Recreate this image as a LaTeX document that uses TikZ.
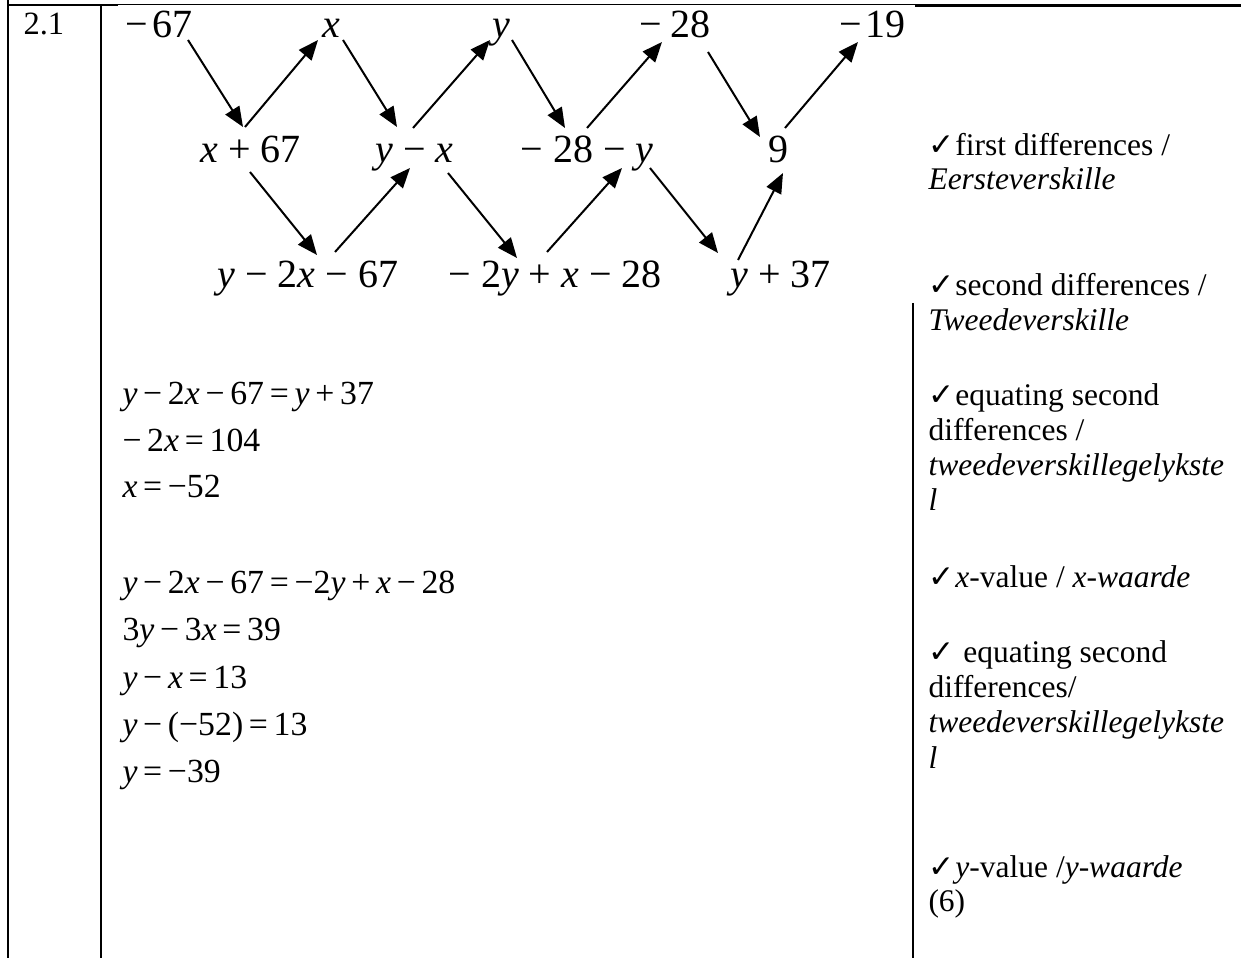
\documentclass[tikz,border=0pt]{standalone}
\usepackage{fontspec}
\setmainfont{Liberation Serif}
\newfontfamily\chkfont{DejaVu Sans}
\usetikzlibrary{arrows.meta}
\newcommand{\iv}[1]{\textit{#1}}
\newcommand{\dop}[1]{\hspace{0.25em}#1\hspace{0.25em}}
\newcommand{\eop}[1]{\hspace{0.17em}#1\hspace{0.17em}}
\newcommand{\chk}{{\chkfont\fontsize{12.5}{12}\selectfont ✓}\hspace{0.3pt}}
\tikzset{
  dg/.style={inner sep=0pt, anchor=base west, font=\fontsize{16}{18}\selectfont},
  eqn/.style={inner sep=0pt, anchor=base west, font=\fontsize{13.5}{15}\selectfont},
  rt/.style={inner sep=0pt, anchor=base west, font=\fontsize{12.6}{14}\selectfont},
  arr/.style={line width=0.8pt, -{Triangle[length=8pt,width=6.5pt]}},
  rulew/.style={line width=0.8pt}
}
\begin{document}
\begin{tikzpicture}[x=0.4pt,y=-0.4pt]
\useasboundingbox (0,0) rectangle (1241,958);
% table frame
\draw[rulew] (7.5,0) -- (7.5,958);
\draw[rulew] (101,5) -- (101,958);
\draw[rulew] (912.5,303) -- (912.5,958);
\draw[line width=0.6pt] (7,5) -- (118,5);
\draw[line width=0.4pt] (118,5) -- (915,5);
\draw[line width=0.9pt] (915,5.5) -- (1241,5.5);
\node[inner sep=0pt, anchor=base west, font=\bfseries\fontsize{12.4}{14}\selectfont] (q) at (28,-4) {Q};
\node[rt, font=\fontsize{13}{15}\selectfont] (num) at (23,35) {2.1};
% diagram nodes
\node[dg] (A) at (125,38) {−\hspace{0.12em}67};
\node[dg] (B) at (322,38) {\iv{x}};
\node[dg] (C) at (492,38) {\iv{y}};
\node[dg] (D) at (639,38) {−\hspace{0.2em}28};
\node[dg] (E) at (839,38) {−\hspace{0.08em}19};
\node[dg] (F) at (200,163) {\iv{x}\dop{+}67};
\node[dg] (G) at (375,163) {\iv{y}\dop{−}\iv{x}};
\node[dg] (H) at (520,163) {−\hspace{0.25em}28\dop{−}\iv{y}};
\node[dg] (I) at (768,163) {9};
\node[dg] (J) at (217,288) {\iv{y}\dop{−}2\iv{x}\dop{−}67};
\node[dg] (K) at (448,288) {−\hspace{0.25em}2\iv{y}\dop{+}\iv{x}\dop{−}28};
\node[dg] (L) at (730,288) {\iv{y}\dop{+}37};
% diagram arrows
\draw[arr] ([shift={(63,2)}]A.base west) -- ([shift={(43,-36)}]F.base west);
\draw[arr] ([shift={(45,-36)}]F.base west) -- ([shift={(-4,2)}]B.base west);
\draw[arr] ([shift={(21,2)}]B.base west) -- ([shift={(22,-36)}]G.base west);
\draw[arr] ([shift={(38,-35)}]G.base west) -- ([shift={(-2,2)}]C.base west);
\draw[arr] ([shift={(20,2)}]C.base west) -- ([shift={(45,-35)}]H.base west);
\draw[arr] ([shift={(67,-35)}]H.base west) -- ([shift={(23,4)}]D.base west);
\draw[arr] ([shift={(69,14)}]D.base west) -- ([shift={(-8,-26)}]I.base west);
\draw[arr] ([shift={(17,-35)}]I.base west) -- ([shift={(19,4)}]E.base west);
\draw[arr] ([shift={(50,9)}]F.base west) -- ([shift={(100,-33)}]J.base west);
\draw[arr] ([shift={(118,-36)}]J.base west) -- ([shift={(35,5)}]G.base west);
\draw[arr] ([shift={(73,10)}]G.base west) -- ([shift={(69,-30)}]K.base west);
\draw[arr] ([shift={(99,-36)}]K.base west) -- ([shift={(102,5)}]H.base west);
\draw[arr] ([shift={(130,5)}]H.base west) -- ([shift={(-12,-35)}]L.base west);
\draw[arr] ([shift={(8,-28)}]L.base west) -- ([shift={(15,10)}]I.base west);
% equations
\node[eqn] (e1) at (122,405) {\iv{y}\eop{−}2\iv{x}\eop{−}67\eop{=}\iv{y}\eop{+}37};
\node[eqn] (e2) at (122,452) {−\hspace{0.17em}2\iv{x}\eop{=}104};
\node[eqn] (e3) at (122,498) {\iv{x}\eop{=}−52};
\node[eqn] (e4) at (122,594) {\iv{y}\eop{−}2\iv{x}\eop{−}67\eop{=}−2\iv{y}\eop{+}\iv{x}\eop{−}28};
\node[eqn] (e5) at (122,641) {3\iv{y}\eop{−}3\iv{x}\eop{=}39};
\node[eqn] (e6) at (122,689) {\iv{y}\eop{−}\iv{x}\eop{=}13};
\node[eqn] (e7) at (122,736) {\iv{y}\eop{−}(−52)\eop{=}13};
\node[eqn] (e8) at (122,782) {\iv{y}\eop{=}−39};
% mark column
\node[rt] (r1) at (928,156) {\chk first differences /};
\node[rt] (r2) at (928,190) {\iv{Eersteverskille}};
\node[rt] (r3) at (928,296) {\chk second differences /};
\node[rt] (r4) at (928,331) {\iv{Tweedeverskille}};
\node[rt] (r5) at (928,406) {\chk equating second};
\node[rt] (r6) at (928,441) {differences /};
\node[rt] (r7) at (928,476) {\iv{tweedeverskillegelykste}};
\node[rt] (r8) at (928,511) {\iv{l}};
\node[rt] (r9) at (928,588) {\chk\iv{x}-value / \iv{x-waarde}};
\node[rt] (r10) at (928,663) {\chk\ equating second};
\node[rt] (r11) at (928,698) {differences/};
\node[rt] (r12) at (928,733) {\iv{tweedeverskillegelykste}};
\node[rt] (r13) at (928,768) {\iv{l}};
\node[rt] (r14) at (928,877) {\chk\iv{y}-value /\iv{y-waarde}};
\node[rt] (r15) at (928,912) {(6)};
\end{tikzpicture}
\end{document}
